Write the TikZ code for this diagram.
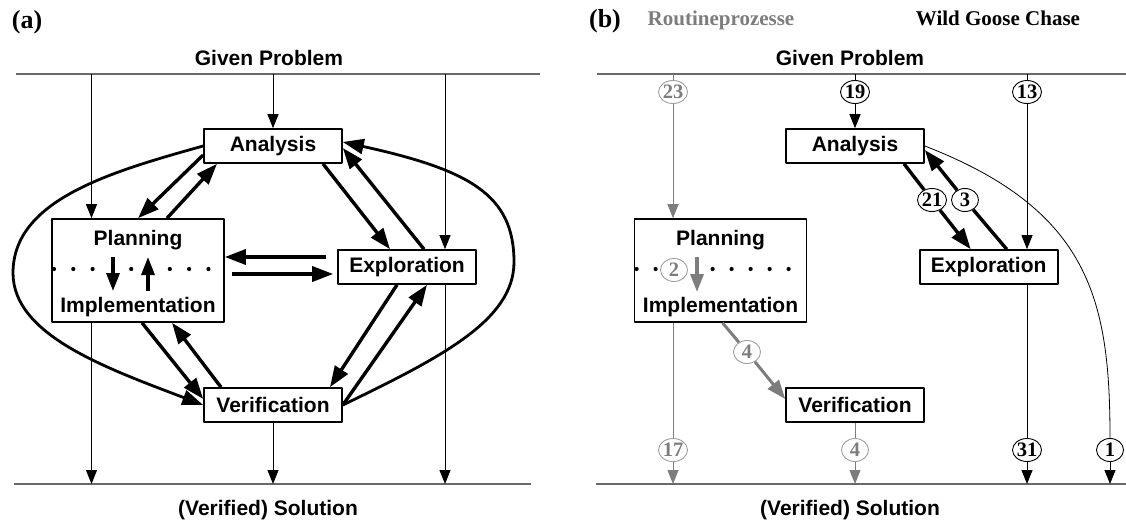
\documentclass[tikz,border=0pt]{standalone}
\usepackage{fontspec}
\setmainfont{Liberation Serif}
\setsansfont{Liberation Sans}
\usetikzlibrary{arrows.meta,shapes.geometric}
\definecolor{lgray}{RGB}{160,160,160}
\definecolor{mgray}{RGB}{125,125,125}
\definecolor{rulegray}{RGB}{105,105,105}
\begin{document}
\begin{tikzpicture}[x=1pt,y=-1pt,line join=round,
	box/.style={draw,line width=1.6pt,minimum width=138pt,minimum height=34pt,inner sep=0pt,font=\sffamily\bfseries\fontsize{21}{24}\selectfont},
	plbox/.style={box,minimum width=172pt,minimum height=103pt},
	lab/.style={font=\sffamily\bfseries\fontsize{21}{24}\selectfont,anchor=base},
	ptitle/.style={font=\bfseries\fontsize{21}{24}\selectfont,anchor=base},
	num/.style={ellipse,draw,line width=0.9pt,fill=white,minimum width=27pt,minimum height=23pt,inner sep=0pt,font=\bfseries\fontsize{20.5}{21}\selectfont},
	gnum/.style={num,draw=lgray,text=mgray},
	hline/.style={draw=rulegray,line width=1.3pt},
	flow/.style={line width=1pt,-{Triangle[length=14pt,width=11pt]}},
	gflow/.style={flow,draw=mgray},
	fat/.style={line width=3.4pt,-{Triangle[length=21pt,width=15pt]}},
	gfat/.style={line width=3pt,draw=mgray,-{Triangle[length=19pt,width=14pt]}},
	minor/.style={line width=3.2pt,-{Triangle[length=18pt,width=13pt]}},
	roundtrip/.style={line width=2.8pt,-{Triangle[length=21pt,width=15pt]}}]
	\useasboundingbox (0,0) rectangle (1126,519);
	% (a)
	\node[ptitle,font=\bfseries\fontsize{26}{28}\selectfont] (pa) at (27,29) {(a)};
	\coordinate (gl) at (16,74); \coordinate (gr) at (540,74);
	\coordinate (sl) at (14,484); \coordinate (sr) at (531,484);
	\draw[hline] (gl) -- (gr);
	\draw[hline] (sl) -- (sr);
	\node[lab] (gp) at (269,65) {Given Problem};
	\node[lab] (vs) at (268,515) {(Verified) Solution};
	\node[box] (ana) at (273,146) {Analysis};
	\node[plbox] (pla) at (138,270.5) {};
	\node[lab] (plt) at (138,245) {Planning};
	\node[lab] (imt) at (138,312) {Implementation};
	\node[box] (exp) at (407,267) {Exploration};
	\node[box] (ver) at (273,405) {Verification};
	\coordinate (g1) at (91.5,74); \coordinate (g3) at (445,74);
	\draw[flow] (g1) -- (g1 |- pla.north);
	\draw[flow] (ana.north |- gl) -- (ana.north);
	\draw[flow] (g3) -- (g3 |- exp.north);
	\draw[flow] (g1 |- pla.south) -- (g1 |- sl);
	\draw[flow] (ver.south) -- (ver.south |- sl);
	\draw[flow] (g3 |- exp.south) -- (g3 |- sl);
	\draw[fat] ([yshift=-9pt]ana.west) -- (pla.north);
	\draw[fat] ([xshift=29pt]pla.north) -- ([xshift=-56pt]ana.south);
	\draw[fat] ([xshift=50pt]ana.south) -- ([xshift=-17pt]exp.north);
	\draw[fat] ([xshift=17pt]exp.north) -- ([yshift=-2pt]ana.east);
	\coordinate (ew1) at ([yshift=10pt]exp.west); \coordinate (ew2) at ([yshift=-7pt]exp.west);
	\draw[fat,shorten <=11pt] (ew1) -- (ew1 -| pla.east);
	\draw[fat,shorten <=7pt,shorten >=4pt] (ew2 -| pla.east) -- (ew2);
	\draw[fat] ([xshift=-10pt]exp.south) -- ([xshift=57pt]ver.north);
	\draw[fat] (ver.east) -- ([xshift=20pt]exp.south);
	\draw[fat] ([xshift=4pt]pla.south) -- ([yshift=6pt]ver.west);
	\draw[fat] ([xshift=-52pt]ver.north) -- ([xshift=34pt]pla.south);
	\draw[roundtrip] (ana.west) .. controls (110,172) and (13,200) .. (13,273) .. controls (13,335) and (106,368) .. (ver.west);
	\draw[roundtrip] (ver.east) .. controls (442,357) and (514,320) .. (514,262) .. controls (514,195) and (470,170) .. ([yshift=4pt]ana.east);
	\foreach \k in {0,1,2,4,6,7,8} \fill (54+19.3*\k,269) circle (2.1pt);
	\draw[minor] ([xshift=-25pt,yshift=13.5pt]pla.center) -- ([xshift=-25pt,yshift=-20.5pt]pla.center);
	\draw[minor] ([xshift=10pt,yshift=-20.5pt]pla.center) -- ([xshift=10pt,yshift=13.5pt]pla.center);
	% (b)
	\node[ptitle,font=\bfseries\fontsize{26}{28}\selectfont] (pb) at (605,28) {(b)};
	\node[ptitle,text=mgray] (rp) at (721,26) {Routineprozesse};
	\node[ptitle] (wg) at (998,26) {Wild Goose Chase};
	\coordinate (gl2) at (597,74); \coordinate (gr2) at (1126,74);
	\coordinate (sl2) at (596,484); \coordinate (sr2) at (1126,484);
	\draw[hline] (gl2) -- (gr2);
	\draw[hline] (sl2) -- (sr2);
	\node[lab] (gp2) at (850,65) {Given Problem};
	\node[lab] (vs2) at (850,515) {(Verified) Solution};
	\node[box] (ana2) at (855,146) {Analysis};
	\node[plbox] (pla2) at (720.5,270.5) {};
	\node[lab] (plt2) at (720.5,245) {Planning};
	\node[lab] (imt2) at (720.5,312) {Implementation};
	\node[box] (exp2) at (988.7,267) {Exploration};
	\node[box] (ver2) at (855,405) {Verification};
	\node[gnum] (n23) at (673,92) {23};
	\node[num] (n19) at (855,92) {19};
	\node[num] (n13) at (1027,92) {13};
	\node[num] (n21) at (932,200) {21};
	\node[num] (n3) at (965,200) {3};
	\node[gnum] (n2) at (674,270) {2};
	\node[gnum] (n4a) at (747,352) {4};
	\node[gnum] (n17) at (673,450) {17};
	\node[gnum] (n4b) at (855,450) {4};
	\node[num] (n31) at (1027,450) {31};
	\node[num] (n1) at (1110,450) {1};
	\draw[draw=mgray,line width=1pt] (n23 |- gl2) -- (n23);
	\draw[gflow] (n23) -- (n23 |- pla2.north);
	\draw[line width=1pt] (n19 |- gl2) -- (n19);
	\draw[flow] (n19) -- (ana2.north);
	\draw[line width=1pt] (n13 |- gl2) -- (n13);
	\draw[flow] (n13) -- (n13 |- exp2.north);
	\draw[line width=3.4pt] ([xshift=49pt]ana2.south) -- (n21);
	\draw[fat] (n21) -- ([xshift=-18pt]exp2.north);
	\draw[line width=3.4pt] ([xshift=18pt]exp2.north) -- (n3);
	\draw[fat] (n3) -- ([yshift=-4pt]ana2.east);
	\draw[line width=0.8pt] (ana2.east) .. controls (1090,210) and (1110,300) .. (n1.north);
	\draw[flow] (n1) -- (n1 |- sl2);
	\draw[line width=1pt] (n31 |- exp2.south) -- (n31);
	\draw[flow] (n31) -- (n31 |- sl2);
	\draw[draw=mgray,line width=1pt] (n17 |- pla2.south) -- (n17);
	\draw[gflow] (n17) -- (n17 |- sl2);
	\draw[draw=mgray,line width=1pt] (ver2.south) -- (n4b);
	\draw[gflow] (n4b) -- (n4b |- sl2);
	\draw[draw=mgray,line width=3pt] ([xshift=2pt]pla2.south) -- (n4a);
	\draw[gfat] (n4a) -- ([yshift=6pt]ver2.west);
	\foreach \k in {0,1,4,5,6,7,8} \fill (636.6+19*\k,269) circle (2.1pt);
	\draw[minor,draw=mgray] ([xshift=-23.5pt,yshift=13.5pt]pla2.center) -- ([xshift=-23.5pt,yshift=-21.5pt]pla2.center);
\end{tikzpicture}
\end{document}
